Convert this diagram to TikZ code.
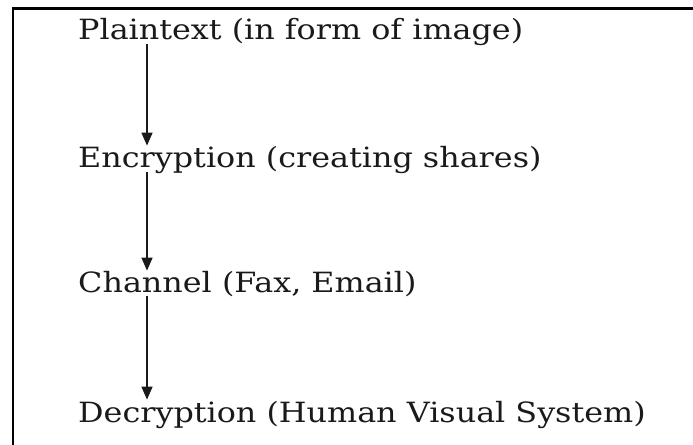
\documentclass[tikz,border=0pt]{standalone}
\usepackage{fontspec}
\setmainfont[FakeStretch=1.14]{DejaVu Serif}
\usetikzlibrary{arrows.meta}
\definecolor{Ink}{HTML}{1A1A1A}

\begin{document}
\begin{tikzpicture}[x=1bp,y=-1bp,
    step label/.style={anchor=base west,inner sep=0pt,text=Ink,font=\fontsize{28}{32}\selectfont},
    flow/.style={-{Triangle[width=11bp,length=13bp]},line width=1.4bp,Ink}]
        \useasboundingbox (0,0) rectangle (693,445);
        \draw[line width=2.4bp] (13,445) -- (13,8.5) -- (693,8.5);
        \node[step label] (plain) at (78,40) {Plaintext (in form of image)};
        \node[step label] (encr) at (78,168) {Encryption (creating shares)};
        \node[step label] (chan) at (78,293) {Channel (Fax, Email)};
        \node[step label] (decr) at (78,422) {Decryption (Human Visual System)};
        \foreach \a/\b in {plain/encr,encr/chan,chan/decr}
          \draw[flow] ([xshift=69bp,yshift=2bp]\a.south west) -- ([xshift=69bp,yshift=1bp]\b.north west);
      \end{tikzpicture}
\end{document}
